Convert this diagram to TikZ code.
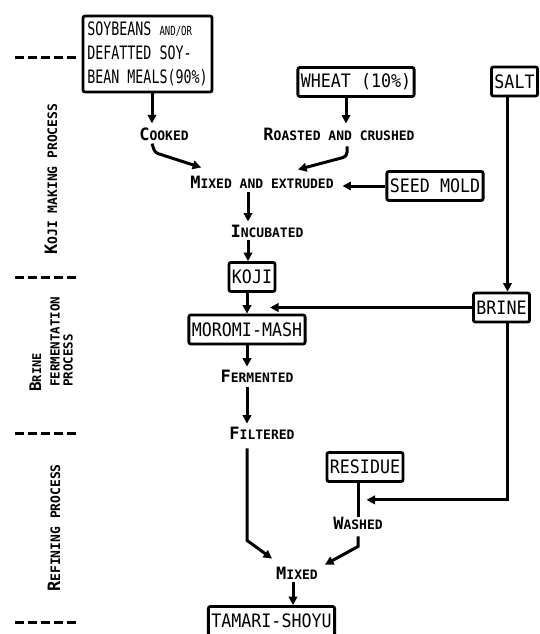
\documentclass[tikz,border=0pt]{standalone}
\usepackage{fontspec}
\newfontfamily\bfnt{DejaVu Sans Mono}[FakeStretch=0.9]
\newfontfamily\nfnt{DejaVu Sans Mono}[FakeStretch=0.72]
\newfontfamily\lfnt{DejaVu Sans Mono Bold}
\usetikzlibrary{arrows.meta}
\newcommand{\SC}[2]{{\fontsize{17}{17}\selectfont #1}{\fontsize{13}{13}\selectfont #2}}
\begin{document}
\begin{tikzpicture}[x=1pt,y=-1pt,
  box/.style={draw,line width=2.8pt,rounded corners=2pt,inner xsep=3pt,inner ysep=2pt,minimum height=29pt,font=\bfnt\fontsize{18.5}{20}\selectfont},
  lbl/.style={inner sep=1pt,font=\lfnt},
  arr/.style={line width=3pt,-{Triangle[length=8.5pt,width=8.5pt]}},
  ln/.style={line width=3pt},
  sep/.style={line width=3pt,dash pattern=on 9pt off 4pt},
  side/.style={rotate=90,anchor=base west,inner sep=0pt,font=\lfnt}]
\useasboundingbox (0,0) rectangle (540,634);

% separators
\draw[sep] (15,58) -- (78,58);
\draw[sep] (15,277) -- (78,277);
\draw[sep] (15,433) -- (78,433);
\draw[sep] (15,622) -- (78,622);

% side labels
\node[side] (kmp) at (57,255) {\SC{K}{OJI MAKING PROCESS}};
\node[side] (rp) at (60,592) {\SC{R}{EFINING PROCESS}};
\node[side] (bfp1) at (41,392) {{\fontsize{16}{16}\selectfont B}{\fontsize{12}{12}\selectfont RINE}};
\node[side,font=\lfnt\fontsize{12.5}{12.5}\selectfont] (bfp2) at (59.5,387) {FERMENTATION};
\node[side,font=\lfnt\fontsize{12.5}{12.5}\selectfont] (bfp3) at (72.5,387) {PROCESS};

% boxes
\node[box,align=left,inner sep=4pt,minimum width=129pt,minimum height=76pt,font=\nfnt\fontsize{18.5}{24}\selectfont] (soy) at (147.5,54) {SOYBEANS {\fontsize{12.5}{12.5}\selectfont AND/OR}\\DEFATTED SOY-\\BEAN MEALS(90\%)};
\node[box] (wheat) at (356,82) {WHEAT (10\%)};
\node[box] (salt) at (514.5,81.5) {SALT};
\node[box] (seed) at (435,186) {SEED MOLD};
\node[box] (koji) at (252,277) {KOJI};
\node[box] (moromi) at (247,329.5) {MOROMI-MASH};
\node[box] (brine) at (501.5,307.5) {BRINE};
\node[box] (residue) at (365,467) {RESIDUE};
\node[box] (tamari) at (271.5,621) {TAMARI-SHOYU};

% labels
\node[lbl] (cooked) at (164,134) {\SC{C}{OOKED}};
\node[lbl] (roast) at (339,134) {\SC{R}{OASTED AND CRUSHED}};
\node[lbl] (mixext) at (262,182) {\SC{M}{IXED AND EXTRUDED}};
\node[lbl] (incub) at (267,231) {\SC{I}{NCUBATED}};
\node[lbl] (ferm) at (257,376) {\SC{F}{ERMENTED}};
\node[lbl] (filt) at (262,433) {\SC{F}{ILTERED}};
\node[lbl] (washed) at (358,523) {\SC{W}{ASHED}};
\node[lbl] (mixed) at (297,573) {\SC{M}{IXED}};

% connectors
\draw[arr] ([xshift=4.5pt]soy.south) -- ([xshift=-12pt,yshift=3pt]cooked.north);
\draw[arr,rounded corners=3pt] ([xshift=-12pt,yshift=-2pt]cooked.south) -- ++(3,9) -- ([xshift=12pt,yshift=7pt]mixext.north west);
\draw[arr] ([xshift=-10pt]wheat.south) -- ([xshift=7pt,yshift=3pt]roast.north);
\draw[arr,rounded corners=4pt] ([xshift=8pt,yshift=-5pt]roast.south) -- ++(0,10) -- ([xshift=36pt,yshift=5pt]mixext.north);
\draw[arr] (seed.west) -- ++(-43,0);
\draw[arr] ([xshift=-14pt,yshift=-3pt]mixext.south) -- ([xshift=-19pt,yshift=2pt]incub.north);
\draw[arr] ([xshift=-19pt,yshift=-2pt]incub.south) -- ([xshift=-4pt]koji.north);
\draw[arr] ([xshift=-5pt]koji.south) -- (moromi.north);
\draw[arr] (brine.west) -- ++(-202,0);
\draw[arr] ([xshift=-7pt]salt.south) -- ([xshift=6pt]brine.north);
\draw[arr] ([xshift=6pt]brine.south) -- ++(0,176.5) -- ++(-141,0);
\draw[ln] ([xshift=-7pt]residue.south) -- ([yshift=-1pt]washed.north);
\draw[arr] ([yshift=-6pt]washed.south) -- ++(0,10) -- ([xshift=6pt,yshift=1pt]mixed.north east);
\draw[arr] ([xshift=-15pt,yshift=-8pt]filt.south) -- ++(0,92) -- ([xshift=-3pt,yshift=7pt]mixed.north west);
\draw[arr] ([xshift=-4pt,yshift=-2pt]mixed.south) -- ([xshift=21.5pt]tamari.north);
\draw[arr] (moromi.south) -- ([xshift=-10pt,yshift=2pt]ferm.north);
\draw[arr] ([xshift=-10pt,yshift=-4pt]ferm.south) -- ([xshift=-15pt,yshift=2pt]filt.north);
\end{tikzpicture}
\end{document}
